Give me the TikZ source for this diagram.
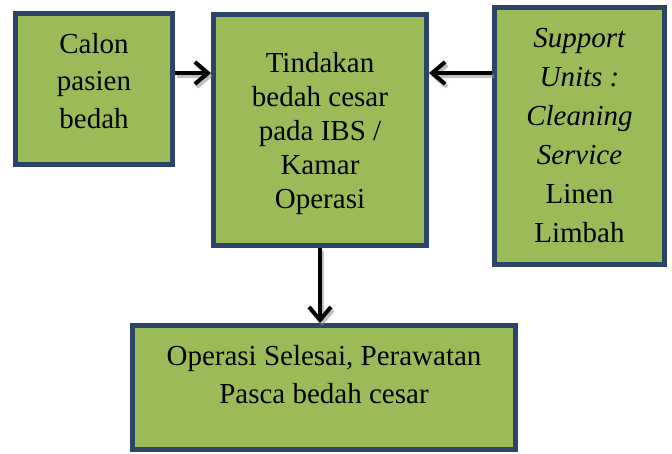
\documentclass[tikz,border=0pt]{standalone}
\usepackage{fontspec}
\setmainfont{Liberation Serif}
\usetikzlibrary{arrows.meta}
\definecolor{boxfill}{HTML}{9BBB59}
\definecolor{boxline}{HTML}{2B4468}
\tikzset{
  box/.style={draw=boxline, line width=5pt, fill=boxfill, inner sep=0pt},
  txt/.style={align=center, inner sep=0pt, anchor=base, text=black},
  arr/.style={line width=4pt, -{Straight Barb[length=13pt,width=22pt,line width=4pt]}},
  arrshadow/.style={arr, draw=black!45, opacity=0.55},
}
\begin{document}
\begin{tikzpicture}[x=1pt,y=-1pt]
\useasboundingbox (0,0) rectangle (672,453);
% boxes
\node[box, minimum width=157pt, minimum height=151pt] (b1) at (94,89) {};
\node[box, minimum width=213pt, minimum height=231pt] (b2) at (320,130) {};
\node[box, minimum width=170pt, minimum height=257pt] (b3) at (579.5,136) {};
\node[box, minimum width=383pt, minimum height=124pt] (b4) at (324,387.5) {};
% texts (anchor base = baseline of last line)
\node[txt, font=\fontsize{29}{37.5}\selectfont] (t1) at (94,128) {Calon\\pasien\\bedah};
\node[txt, font=\fontsize{29}{34}\selectfont] (t2) at (320,208) {Tindakan\\bedah cesar\\pada IBS /\\Kamar\\Operasi};
\node[txt, font=\fontsize{29}{39}\selectfont] (t3) at (579.5,242) {\textit{Support}\\\textit{Units :}\\\textit{Cleaning}\\\textit{Service}\\Linen\\Limbah};
\node[txt, font=\fontsize{29}{38}\selectfont] (t4) at (324,403) {Operasi Selesai, Perawatan\\Pasca bedah cesar};
% arrows
\coordinate (ay) at (0,73);
\draw[arrshadow] ([shift={(2pt,-3pt)}]b1.east |- ay) -- ([shift={(2pt,-3pt)}]b2.west |- ay);
\draw[arrshadow] ([shift={(2pt,-3pt)}]b3.west |- ay) -- ([shift={(2pt,-3pt)}]b2.east |- ay);
\draw[arrshadow] ([shift={(2pt,-3pt)}]b2.south) -- ([shift={(2pt,-3pt)}]b4.north -| b2.south);
\draw[arr] (b1.east |- ay) -- (b2.west |- ay);
\draw[arr] (b3.west |- ay) -- (b2.east |- ay);
\draw[arr] (b2.south) -- (b4.north -| b2.south);
\end{tikzpicture}
\end{document}
